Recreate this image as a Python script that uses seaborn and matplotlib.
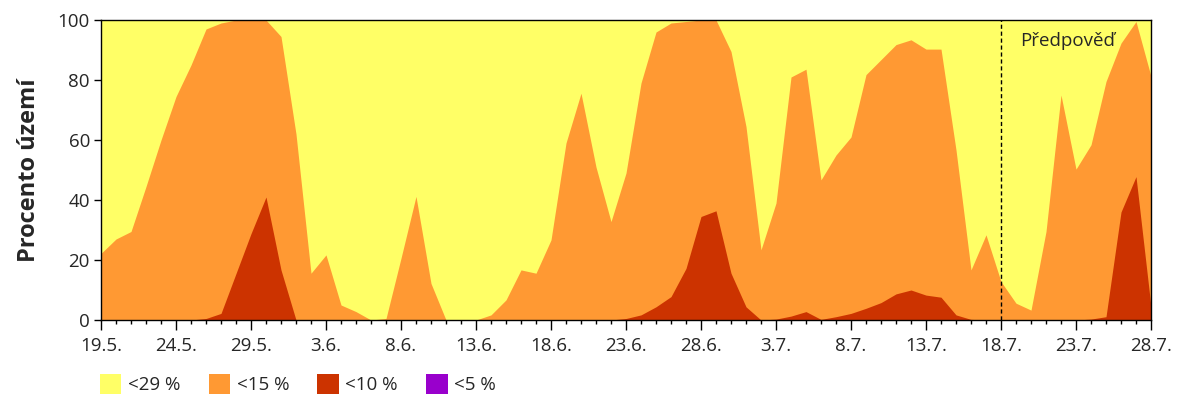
import numpy as np
import pandas as pd
import seaborn as sns
import matplotlib.pyplot as plt
from matplotlib.patches import Patch
from matplotlib.ticker import MultipleLocator

# Dny 19.5. - 28.7.
dny = pd.date_range("2024-05-19", "2024-07-28", freq="D")

# Procento území v jednotlivých kategoriích (kumulativně)
pod_29 = [100] * 71
pod_15 = [22.2, 27, 29.5, 44.5, 60, 74.5, 85, 97, 99, 100,
          100, 100, 94.5, 62, 15.6, 21.7, 5, 2.8, 0, 0.5,
          20.6, 41.2, 12.2, 0, 0, 0, 1.7, 6.7, 16.7, 15.6,
          26.7, 59, 75.6, 51, 32.8, 49, 79, 96, 99, 99.5,
          100, 100, 89.5, 64.5, 23.4, 39, 81, 83.6, 46.7, 55,
          61, 81.8, 86.8, 91.8, 93.4, 90.3, 90.3, 56.7, 16.7, 28.4,
          12.8, 5.6, 3.3, 29.5, 75, 50.3, 58.4, 79.5, 92.3, 99.5,
          81.2]
pod_10 = [0, 0, 0, 0, 0, 0, 0, 0.5, 2.2, 15.5,
          28.8, 41, 16.7, 0, 0, 0, 0, 0, 0, 0,
          0, 0, 0, 0, 0, 0, 0, 0, 0, 0,
          0, 0, 0, 0, 0, 0.5, 1.7, 4.4, 7.8, 17.2,
          34.5, 36.4, 15.6, 4.4, 0, 0.3, 1.3, 2.8, 0.2, 1.1,
          2.2, 3.9, 5.8, 8.7, 10, 8.3, 7.6, 1.7, 0.2, 0,
          0, 0, 0, 0, 0, 0, 0.3, 1.1, 36, 47.8,
          4.4]
pod_5 = [0] * 71

kategorie = ["<29 %", "<15 %", "<10 %", "<5 %"]
barvy = ["#FFFF66", "#FF9933", "#CC3300", "#9900CC"]
zacatek_predpovedi = 60  # 18.7.

sns.set_theme(style="ticks")
plt.rcParams['font.family'] = ['Open Sans', 'DejaVu Sans']

fig = plt.figure(figsize=(12, 4), dpi=100)
ax = fig.add_axes([101/1200, 80/400, 1050/1200, 300/400])

x = np.arange(len(dny))
for serie, barva in zip([pod_29, pod_15, pod_10, pod_5], barvy):
    ax.fill_between(x, 0, serie, color=barva, lw=0)

ax.axvline(zacatek_predpovedi, color="black", ls=(0, (3, 2)), lw=1)
ax.text(zacatek_predpovedi + 1.3, 93, "Předpověď", fontsize=13.5, va="center", ha="left")

ax.set_xlim(0, len(dny) - 1)
ax.set_ylim(0, 100)
ax.set_xticks(x[::5])
ax.set_xticklabels([f"{d.day}.{d.month}." for d in dny[::5]])
ax.xaxis.set_minor_locator(MultipleLocator(1))
ax.set_yticks(range(0, 101, 20))
ax.tick_params(axis="x", which="major", length=7, width=1, labelsize=13.5, pad=5, color="black")
ax.tick_params(axis="x", which="minor", length=3, width=1, color="black")
ax.tick_params(axis="y", length=5, width=1, labelsize=13.5, pad=3, color="black")
ax.set_ylabel("Procento území", fontsize=17, fontweight="bold", labelpad=12)
for s in ax.spines.values():
    s.set_color("black")
    s.set_linewidth(1)

handles = [Patch(facecolor=b, edgecolor="none") for b in barvy]
fig.legend(handles, kategorie, loc="center left", bbox_to_anchor=(83/1200, 16/400),
           ncol=4, frameon=False, fontsize=13.5, handlelength=1.15, handleheight=1.3,
           handletextpad=0.35, columnspacing=1.5)

plt.savefig("out.png", dpi=100)
